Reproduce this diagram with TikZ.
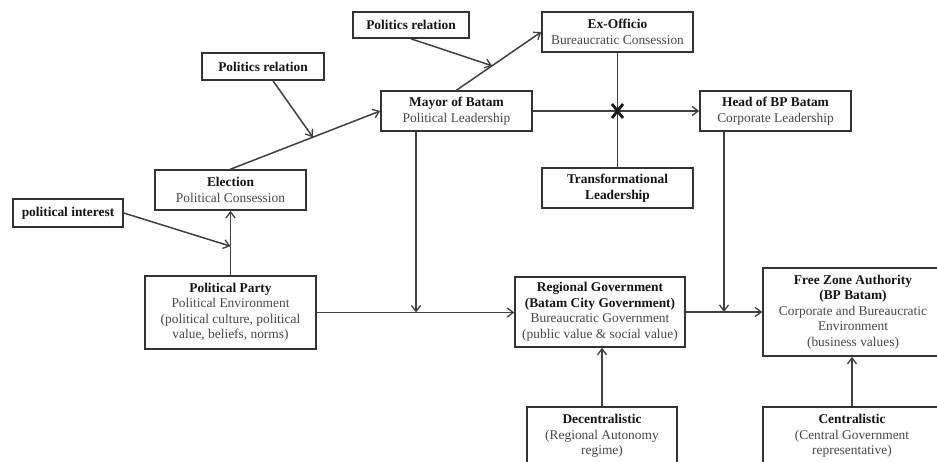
\documentclass[tikz,border=0pt]{standalone}
\usepackage{fontspec}
\setmainfont{Liberation Serif}
\usetikzlibrary{arrows.meta,calc}
\newcommand\bhead[1]{\textcolor{black!92}{\bfseries #1}}
\begin{document}
\begin{tikzpicture}[x=1pt,y=-1pt,
  box/.style={draw=black!80, line width=1.6pt, align=center, inner sep=2pt,
    font=\fontsize{13.4}{15.5}\selectfont, text=black!72},
  conn/.style={draw=black!75, line width=1.5pt},
  arr/.style={conn, -{Straight Barb[length=6pt,width=9pt,line width=1.3pt]}}
]
\useasboundingbox (0,0) rectangle (937,461);
\clip (0,0) rectangle (937,461);
\fill[white] (0,0) rectangle (937,461);

\node[box, minimum width=116pt, minimum height=26pt] (pr1) at (411,25) {\bhead{Politics relation}};
\node[box, minimum width=122pt, minimum height=27pt] (pr2) at (263,66.5) {\bhead{Politics relation}};
\node[box, minimum width=151pt, minimum height=40pt] (exo) at (617.5,32) {\bhead{Ex-Officio}\\Bureaucratic Consession};
\node[box, minimum width=151pt, minimum height=40pt] (mayor) at (456.5,111) {\bhead{Mayor of Batam}\\Political Leadership};
\node[box, minimum width=151pt, minimum height=40pt] (head) at (775.5,111) {\bhead{Head of BP Batam}\\Corporate Leadership};
\node[box, minimum width=151pt, minimum height=40pt] (election) at (230.5,190) {\bhead{Election}\\Political Consession};
\node[box, minimum width=151pt, minimum height=40pt] (trans) at (617.5,188) {\bhead{Transformational}\\\bhead{Leadership}};
\node[box, minimum width=110pt, minimum height=28pt] (pi) at (68,213) {\bhead{political interest}};
\node[box, minimum width=171pt, minimum height=73pt] (party) at (230.5,312.5) {\bhead{Political Party}\\Political Environment\\(political culture, political\\value, beliefs, norms)};
\node[box, minimum width=170pt, minimum height=70pt] (regional) at (600,312) {\bhead{Regional Government}\\\bhead{(Batam City Government)}\\Bureaucratic Government\\(public value \& social value)};
\node[box, minimum width=180pt, minimum height=88pt] (fza) at (853,312) {\bhead{Free Zone Authority}\\\bhead{(BP Batam)}\\Corporate and Bureaucratic\\Environment\\(business values)};
\node[box, minimum width=150pt, minimum height=58pt] (decen) at (602,436) {\bhead{Decentralistic}\\(Regional Autonomy\\regime)};
\node[box, minimum width=178pt, minimum height=58pt] (cen) at (852,436) {\bhead{Centralistic}\\(Central Government\\representative)};

% junction coordinates
\coordinate (j1) at ($(election.north)!0.55!(mayor.west)$);
\coordinate (j2) at ($(party.north)!0.45!(election.south)$);
\coordinate (j3) at ($(mayor.north)!0.42!(exo.west)$);
\coordinate (xm) at (exo.south |- mayor.east);
\coordinate (hs) at ([xshift=-51.5pt]head.south);

\draw[arr] (party.north) -- (election.south);
\draw[arr] (election.north) -- (mayor.west);
\draw[arr] ([xshift=10pt]pr2.south) -- (j1);
\draw[arr] (pi.east) -- (j2);
\draw[arr] (mayor.north) -- (exo.west);
\draw[arr] (pr1.south) -- (j3);
\draw[arr] (mayor.east) -- (head.west);
\draw[conn] (exo.south) -- (trans.north);
\draw[arr] ([xshift=-40.5pt]mayor.south) -- ([xshift=-40.5pt]mayor.south |- party.east);
\draw[arr] (party.east) -- (party.east -| regional.west);
\draw[arr] (hs) -- (hs |- regional.east);
\draw[arr] (regional.east) -- (regional.east -| fza.west);
\draw[arr] (decen.north) -- (decen.north |- regional.south);
\draw[arr] (cen.north) -- (cen.north |- fza.south);

\draw[line width=2.8pt, black!90] ($(xm)+(-5.5,-7)$) -- ($(xm)+(5.5,7)$)
  ($(xm)+(-5.5,7)$) -- ($(xm)+(5.5,-7)$);
\end{tikzpicture}
\end{document}
